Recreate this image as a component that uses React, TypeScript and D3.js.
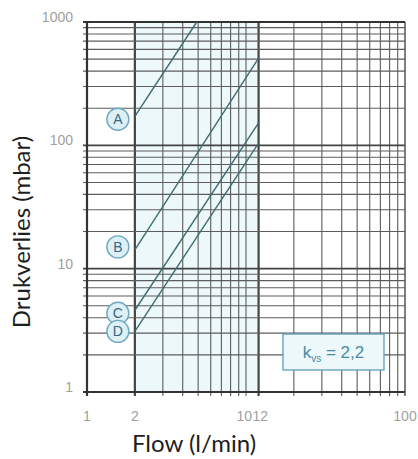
import React from "react";
import * as d3 from "d3";

const W = 418;
const H = 459;

const xTickLabels = [1, 2, 10, 12, 100];
const yTickLabels = [1, 10, 100, 1000];
const xGridValues = [2, 3, 4, 5, 6, 7, 8, 9, 10, 12, 20, 30, 40, 50, 60, 70, 80, 90];
const yGridValues = [
  2, 3, 4, 5, 6, 7, 8, 9, 10, 20, 30, 40, 50, 60, 70, 80, 90, 100, 200, 300, 400,
  500, 600, 700, 800, 900,
];
const xThick = [2, 12];
const yThick = [10, 100];

const seriesNames = ["A", "B", "C", "D"];
const flowStart = [2, 2, 2, 2];
const flowEnd = [4.9, 12, 12, 12];
const dpStart = [172, 14.2, 4.6, 3.1];
const dpEnd = [1000, 510, 152, 104];

const shadeRange = [2, 12];
const kvsValue = "2,2";

const M = { left: 87, right: 405, top: 22, bottom: 392 };

export default function App() {
  const x = d3.scaleLog().domain([1, 100]).range([M.left, M.right]);
  const y = d3.scaleLog().domain([1, 1000]).range([M.bottom, M.top]);
  const line = d3
    .line<[number, number]>()
    .x((d) => x(d[0]))
    .y((d) => y(d[1]));

  const gridColor = "#5c5c5c";
  const tickFont = "Liberation Sans, Arial, sans-serif";
  const titleFont = "Lato, 'Open Sans', sans-serif";

  const xLabelProps = (v: number) => {
    if (v === 10) return { x: x(v) + 6, anchor: "end" };
    if (v === 12) return { x: x(v) - 6, anchor: "start" };
    return { x: x(v), anchor: "middle" };
  };

  return (
    <svg
      width={W}
      height={H}
      style={{ position: "absolute", left: 0, top: 0, background: "#fff" }}
    >
      <rect x={0} y={0} width={W} height={H} fill="#fff" />
      <rect
        x={x(shadeRange[0])}
        y={M.top}
        width={x(shadeRange[1]) - x(shadeRange[0])}
        height={M.bottom - M.top}
        fill="#ecf8f9"
      />
      {/* vertical grid */}
      {xGridValues.map((v) => (
        <line
          key={"vx" + v}
          x1={x(v)}
          x2={x(v)}
          y1={M.top}
          y2={M.bottom + 4}
          stroke={xThick.includes(v) ? "#444" : gridColor}
          strokeWidth={xThick.includes(v) ? 2.2 : 1.1}
        />
      ))}
      {/* horizontal grid */}
      {yGridValues.map((v) => (
        <line
          key={"hy" + v}
          x1={M.left - 4}
          x2={M.right}
          y1={y(v)}
          y2={y(v)}
          stroke={yThick.includes(v) ? "#444" : gridColor}
          strokeWidth={yThick.includes(v) ? 1.7 : 1.1}
        />
      ))}
      {/* borders */}
      <line x1={M.left} x2={M.left} y1={M.top} y2={M.bottom + 4} stroke="#333" strokeWidth={2.2} />
      <line x1={M.right} x2={M.right} y1={M.top} y2={M.bottom + 4} stroke="#555" strokeWidth={1.5} />
      <line x1={M.left - 4} x2={M.right} y1={M.top} y2={M.top} stroke="#333" strokeWidth={2.2} />
      <line x1={M.left - 4} x2={M.right} y1={M.bottom} y2={M.bottom} stroke="#333" strokeWidth={2} />

      {/* curves */}
      {seriesNames.map((n, i) => (
        <path
          key={"c" + n}
          d={line([
            [flowStart[i], dpStart[i]],
            [flowEnd[i], dpEnd[i]],
          ]) || ""}
          fill="none"
          stroke="#3f6c72"
          strokeWidth={1.4}
        />
      ))}

      {/* series labels */}
      {seriesNames.map((n, i) => {
        const cx = x(flowStart[i]) - 17;
        const cy = y(dpStart[i]) + (i === 0 ? 3 : i === 1 ? -3 : i === 2 ? 3 : 0);
        return (
          <g key={"l" + n}>
            <circle cx={cx} cy={cy} r={11} fill="#dcf0f6" stroke="#6fa8c2" strokeWidth={1.4} />
            <text
              x={cx}
              y={cy + 5}
              textAnchor="middle"
              fontFamily={tickFont}
              fontSize={14}
              fill="#3a6884"
            >
              {n}
            </text>
          </g>
        );
      })}

      {/* kvs box */}
      <g>
        <rect x={283} y={334} width={101} height={36} fill="#edf8fa" stroke="#5f9cb5" strokeWidth={1.3} />
        <text
          x={333.5}
          y={358}
          textAnchor="middle"
          fontFamily={tickFont}
          fontSize={17}
          fill="#4a8aa4"
        >
          k<tspan fontSize={10} dy={4}>vs</tspan>
          <tspan dy={-4}> = {kvsValue}</tspan>
        </text>
      </g>

      {/* y tick labels */}
      {yTickLabels.map((v) => (
        <text
          key={"yt" + v}
          x={73}
          y={y(v)}
          textAnchor="end"
          fontFamily={tickFont}
          fontSize={14}
          fill="#a0a0a0"
        >
          {v}
        </text>
      ))}
      {/* x tick labels */}
      {xTickLabels.map((v) => {
        const p = xLabelProps(v);
        return (
          <text
            key={"xt" + v}
            x={p.x}
            y={421}
            textAnchor={p.anchor}
            fontFamily={tickFont}
            fontSize={14}
            fill="#a0a0a0"
          >
            {v}
          </text>
        );
      })}

      {/* axis titles */}
      <text
        x={194}
        y={452}
        textAnchor="middle"
        fontFamily={titleFont}
        fontSize={24}
        fill="#1e1e1e"
      >
        Flow (l/min)
      </text>
      <text
        transform="translate(30,232) rotate(-90)"
        textAnchor="middle"
        fontFamily={titleFont}
        fontSize={24}
        fill="#1e1e1e"
      >
        Drukverlies (mbar)
      </text>
    </svg>
  );
}
